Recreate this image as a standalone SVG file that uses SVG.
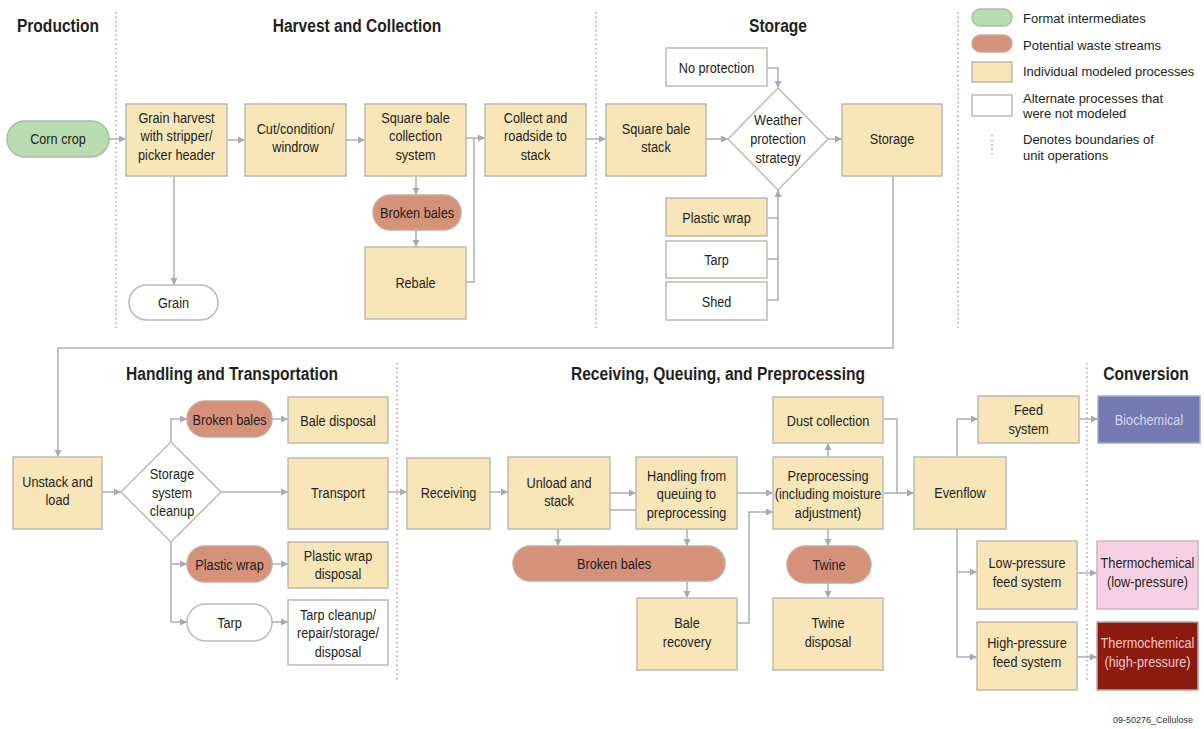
<svg xmlns="http://www.w3.org/2000/svg" width="1204" height="729" viewBox="0 0 1204 729">
<style>
.box{fill:#f8e5b8;stroke:#bfbab0;stroke-width:1.5}
.alt{fill:#ffffff;stroke:#bfbab0;stroke-width:1.5}
.waste{fill:#d5917a;stroke:#c9a898;stroke-width:1.5}
.green{fill:#b9dcb1;stroke:#a8bda4;stroke-width:1.5}
.dia{fill:#ffffff;stroke:#bfbab0;stroke-width:1.5}
.conn path{fill:none;stroke:#aab0b8;stroke-width:1.5}
.dot{stroke:#a8a8a8;stroke-width:1.5;stroke-dasharray:1.5 3;fill:none}
text{font-family:"Liberation Sans","Arial",sans-serif;fill:#231f20}
.t{font-size:15.5px;text-anchor:middle}
.h{font-size:19px;font-weight:bold;text-anchor:middle}
.lg{font-size:13px}
</style>
<defs>
<marker id="ah" markerUnits="userSpaceOnUse" markerWidth="8" markerHeight="8" refX="7" refY="4" orient="auto">
<path d="M0,0.5 L7,4 L0,7.5 z" fill="#a4abb4"/>
</marker>
</defs>

<g id="boundaries">
<line class="dot" x1="116" y1="12" x2="116" y2="328"/>
<line class="dot" x1="596" y1="12" x2="596" y2="328"/>
<line class="dot" x1="958" y1="12" x2="958" y2="328"/>
<line class="dot" x1="397" y1="363" x2="397" y2="680"/>
<line class="dot" x1="1087" y1="363" x2="1087" y2="680"/>
</g>

<g id="titles">
<text class="h" transform="translate(58,0) scale(0.82,1)" y="32">Production</text>
<text class="h" transform="translate(357,0) scale(0.82,1)" y="32">Harvest and Collection</text>
<text class="h" transform="translate(778,0) scale(0.82,1)" y="32">Storage</text>
<text class="h" transform="translate(232,0) scale(0.82,1)" y="380">Handling and Transportation</text>
<text class="h" transform="translate(718,0) scale(0.82,1)" y="380">Receiving, Queuing, and Preprocessing</text>
<text class="h" transform="translate(1146,0) scale(0.82,1)" y="380">Conversion</text>
</g>

<g id="legend">
<rect class="green" x="972" y="9" width="40" height="17" rx="8.5"/>
<rect class="waste" x="972" y="35" width="40" height="17" rx="8.5"/>
<rect class="box" x="972" y="62" width="40" height="20"/>
<rect class="alt" x="972" y="95" width="40" height="21"/>
<line class="dot" x1="992" y1="135" x2="992" y2="158"/>
<text class="lg" x="1023" y="23">Format intermediates</text>
<text class="lg" x="1023" y="50">Potential waste streams</text>
<text class="lg" x="1023" y="76">Individual modeled processes</text>
<text class="lg" x="1023" y="103">Alternate processes that</text>
<text class="lg" x="1023" y="118">were not modeled</text>
<text class="lg" x="1023" y="144">Denotes boundaries of</text>
<text class="lg" x="1023" y="160">unit operations</text>
</g>

<g class="conn" id="connectors">
<path d="M109,139 H126" marker-end="url(#ah)"/>
<path d="M227,140 H245" marker-end="url(#ah)"/>
<path d="M346,140 H365" marker-end="url(#ah)"/>
<path d="M466,138 H485" marker-end="url(#ah)"/>
<path d="M466,282 H474 V138"/>
<path d="M174,176 V285" marker-end="url(#ah)"/>
<path d="M416,176 V195" marker-end="url(#ah)"/>
<path d="M416,230 V247" marker-end="url(#ah)"/>
<path d="M586,139 H606" marker-end="url(#ah)"/>
<path d="M706,139 H728" marker-end="url(#ah)"/>
<path d="M828,139 H842" marker-end="url(#ah)"/>
<path d="M767,68 H778 V88" marker-end="url(#ah)"/>
<path d="M767,218 H778"/>
<path d="M767,259 H778"/>
<path d="M767,300 H778 V190" marker-end="url(#ah)"/>
<path d="M893,176 V348 H58 V457" marker-end="url(#ah)"/>
<path d="M102,492 H121" marker-end="url(#ah)"/>
<path d="M171,442 V419 H187" marker-end="url(#ah)"/>
<path d="M221,492 H288" marker-end="url(#ah)"/>
<path d="M171,542 V622 H187" marker-end="url(#ah)"/>
<path d="M171,564 H187" marker-end="url(#ah)"/>
<path d="M272,419 H288" marker-end="url(#ah)"/>
<path d="M272,564 H288" marker-end="url(#ah)"/>
<path d="M272,622 H288" marker-end="url(#ah)"/>
<path d="M388,492 H407" marker-end="url(#ah)"/>
<path d="M490,492 H508" marker-end="url(#ah)"/>
<path d="M610,493 H636" marker-end="url(#ah)"/>
<path d="M610,510 H636"/>
<path d="M737,493 H773" marker-end="url(#ah)"/>
<path d="M737,623 H749 V512 H773" marker-end="url(#ah)"/>
<path d="M558,529 V546" marker-end="url(#ah)"/>
<path d="M687,529 V546" marker-end="url(#ah)"/>
<path d="M687,581 V598" marker-end="url(#ah)"/>
<path d="M828,457 V443" marker-end="url(#ah)"/>
<path d="M828,529 V546" marker-end="url(#ah)"/>
<path d="M828,583 V598" marker-end="url(#ah)"/>
<path d="M883,419 H897 V493"/>
<path d="M883,493 H914" marker-end="url(#ah)"/>
<path d="M957,457 V419 H978" marker-end="url(#ah)"/>
<path d="M957,529 V657 H977" marker-end="url(#ah)"/>
<path d="M957,572 H977" marker-end="url(#ah)"/>
<path d="M1079,419 H1098" marker-end="url(#ah)"/>
<path d="M1077,573 H1097" marker-end="url(#ah)"/>
<path d="M1077,657 H1097" marker-end="url(#ah)"/>
</g>

<g id="corn-crop"><rect class="green" x="7" y="121" width="102" height="36" rx="18"/><text class="t" transform="translate(58,0) scale(0.82,1)" y="144">Corn crop</text></g>
<g id="grain-harvest"><rect class="box" x="126" y="104" width="101" height="72"/><g transform="translate(176.5,0) scale(0.82,1)"><text class="t" y="123">Grain harvest</text><text class="t" y="141.5">with stripper/</text><text class="t" y="160">picker header</text></g></g>
<g id="cut"><rect class="box" x="245" y="104" width="101" height="72"/><g transform="translate(295.5,0) scale(0.82,1)"><text class="t" y="134">Cut/condition/</text><text class="t" y="152">windrow</text></g></g>
<g id="square-bale-collection"><rect class="box" x="365" y="104" width="101" height="72"/><g transform="translate(415.5,0) scale(0.82,1)"><text class="t" y="123">Square bale</text><text class="t" y="141.5">collection</text><text class="t" y="160">system</text></g></g>
<g id="collect"><rect class="box" x="485" y="104" width="101" height="72"/><g transform="translate(535.5,0) scale(0.82,1)"><text class="t" y="123">Collect and</text><text class="t" y="141.5">roadside to</text><text class="t" y="160">stack</text></g></g>
<g id="broken-bales-1"><rect class="waste" x="373" y="195" width="88" height="35" rx="17.5"/><text class="t" transform="translate(417,0) scale(0.82,1)" y="218">Broken bales</text></g>
<g id="rebale"><rect class="box" x="365" y="247" width="101" height="72"/><text class="t" transform="translate(415.5,0) scale(0.82,1)" y="288">Rebale</text></g>
<g id="grain"><rect class="alt" x="129" y="285" width="89" height="35" rx="17.5"/><text class="t" transform="translate(173.5,0) scale(0.82,1)" y="308">Grain</text></g>

<g id="square-bale-stack"><rect class="box" x="606" y="104" width="100" height="72"/><g transform="translate(656,0) scale(0.82,1)"><text class="t" y="134">Square bale</text><text class="t" y="152">stack</text></g></g>
<g id="weather"><polygon class="dia" points="778,88 828,139 778,190 728,139"/><g transform="translate(778,0) scale(0.82,1)"><text class="t" y="125">Weather</text><text class="t" y="144">protection</text><text class="t" y="163">strategy</text></g></g>
<g id="storage"><rect class="box" x="842" y="104" width="100" height="72"/><text class="t" transform="translate(892,0) scale(0.82,1)" y="144">Storage</text></g>
<g id="no-protection"><rect class="alt" x="666" y="48" width="101" height="38"/><text class="t" transform="translate(716.5,0) scale(0.82,1)" y="73">No protection</text></g>
<g id="plastic-wrap-1"><rect class="box" x="666" y="198" width="101" height="38"/><text class="t" transform="translate(716.5,0) scale(0.82,1)" y="223">Plastic wrap</text></g>
<g id="tarp-1"><rect class="alt" x="666" y="241" width="101" height="37"/><text class="t" transform="translate(716.5,0) scale(0.82,1)" y="265">Tarp</text></g>
<g id="shed"><rect class="alt" x="666" y="282" width="101" height="38"/><text class="t" transform="translate(716.5,0) scale(0.82,1)" y="307">Shed</text></g>

<g id="unstack"><rect class="box" x="13" y="457" width="89" height="72"/><g transform="translate(57.5,0) scale(0.82,1)"><text class="t" y="487">Unstack and</text><text class="t" y="505">load</text></g></g>
<g id="cleanup"><polygon class="dia" points="171,442 221,492 171,542 121,492"/><g transform="translate(172,0) scale(0.82,1)"><text class="t" y="479">Storage</text><text class="t" y="498">system</text><text class="t" y="516">cleanup</text></g></g>
<g id="broken-bales-2"><rect class="waste" x="187" y="401" width="85" height="36" rx="18"/><text class="t" transform="translate(229.5,0) scale(0.82,1)" y="425">Broken bales</text></g>
<g id="bale-disposal"><rect class="box" x="288" y="397" width="100" height="46"/><text class="t" transform="translate(338,0) scale(0.82,1)" y="426">Bale disposal</text></g>
<g id="transport"><rect class="box" x="288" y="458" width="100" height="71"/><text class="t" transform="translate(338,0) scale(0.82,1)" y="498">Transport</text></g>
<g id="plastic-wrap-2"><rect class="waste" x="187" y="546" width="85" height="36" rx="18"/><text class="t" transform="translate(229.5,0) scale(0.82,1)" y="570">Plastic wrap</text></g>
<g id="plastic-wrap-disposal"><rect class="box" x="288" y="542" width="100" height="46"/><g transform="translate(338,0) scale(0.82,1)"><text class="t" y="561">Plastic wrap</text><text class="t" y="579">disposal</text></g></g>
<g id="tarp-2"><rect class="alt" x="187" y="604" width="85" height="37" rx="18.5"/><text class="t" transform="translate(229.5,0) scale(0.82,1)" y="628">Tarp</text></g>
<g id="tarp-cleanup"><rect class="alt" x="288" y="600" width="100" height="65"/><g transform="translate(338,0) scale(0.82,1)"><text class="t" y="620">Tarp cleanup/</text><text class="t" y="638.5">repair/storage/</text><text class="t" y="657">disposal</text></g></g>
<g id="receiving"><rect class="box" x="407" y="458" width="83" height="71"/><text class="t" transform="translate(448.5,0) scale(0.82,1)" y="498">Receiving</text></g>

<g id="unload"><rect class="box" x="508" y="457" width="102" height="72"/><g transform="translate(559,0) scale(0.82,1)"><text class="t" y="488">Unload and</text><text class="t" y="506">stack</text></g></g>
<g id="handling"><rect class="box" x="636" y="457" width="101" height="72"/><g transform="translate(686.5,0) scale(0.82,1)"><text class="t" y="481">Handling from</text><text class="t" y="499.5">queuing to</text><text class="t" y="518">preprocessing</text></g></g>
<g id="preprocessing"><rect class="box" x="773" y="457" width="110" height="72"/><g transform="translate(828,0) scale(0.82,1)"><text class="t" y="481">Preprocessing</text><text class="t" y="499.5">(including moisture</text><text class="t" y="518">adjustment)</text></g></g>
<g id="dust"><rect class="box" x="773" y="397" width="110" height="46"/><text class="t" transform="translate(828,0) scale(0.82,1)" y="426">Dust collection</text></g>
<g id="broken-bales-3"><rect class="waste" x="513" y="546" width="212" height="35" rx="17.5"/><text class="t" transform="translate(614,0) scale(0.82,1)" y="569">Broken bales</text></g>
<g id="twine"><rect class="waste" x="787" y="546" width="84" height="37" rx="18.5"/><text class="t" transform="translate(829,0) scale(0.82,1)" y="570">Twine</text></g>
<g id="bale-recovery"><rect class="box" x="637" y="598" width="100" height="72"/><g transform="translate(687,0) scale(0.82,1)"><text class="t" y="628">Bale</text><text class="t" y="647">recovery</text></g></g>
<g id="twine-disposal"><rect class="box" x="773" y="598" width="110" height="72"/><g transform="translate(828,0) scale(0.82,1)"><text class="t" y="628">Twine</text><text class="t" y="647">disposal</text></g></g>

<g id="evenflow"><rect class="box" x="914" y="457" width="92" height="72"/><text class="t" transform="translate(960,0) scale(0.82,1)" y="498">Evenflow</text></g>
<g id="feed"><rect class="box" x="978" y="396" width="101" height="47"/><g transform="translate(1028.5,0) scale(0.82,1)"><text class="t" y="415">Feed</text><text class="t" y="434">system</text></g></g>
<g id="biochemical"><rect x="1098" y="396" width="102" height="47" fill="#7579b2" stroke="#a9abc6" stroke-width="1.5"/><text class="t" transform="translate(1149,0) scale(0.82,1)" y="425" style="fill:#d5d8ef">Biochemical</text></g>
<g id="low-pressure"><rect class="box" x="977" y="541" width="100" height="68"/><g transform="translate(1027,0) scale(0.82,1)"><text class="t" y="568">Low-pressure</text><text class="t" y="587">feed system</text></g></g>
<g id="thermo-low"><rect x="1097" y="541" width="101" height="68" fill="#f7d0e3" stroke="#c9b6bf" stroke-width="1.5"/><g transform="translate(1147.5,0) scale(0.82,1)"><text class="t" y="568">Thermochemical</text><text class="t" y="587">(low-pressure)</text></g></g>
<g id="high-pressure"><rect class="box" x="977" y="622" width="100" height="68"/><g transform="translate(1027,0) scale(0.82,1)"><text class="t" y="648">High-pressure</text><text class="t" y="667">feed system</text></g></g>
<g id="thermo-high"><rect x="1097" y="622" width="101" height="68" fill="#8b1a0f" stroke="#b9a8a5" stroke-width="1.5"/><g transform="translate(1147.5,0) scale(0.82,1)"><text class="t" y="648" style="fill:#f5c8cc">Thermochemical</text><text class="t" y="667" style="fill:#f5c8cc">(high-pressure)</text></g></g>

<text x="1193" y="723" style="font-size:9px;text-anchor:end;fill:#333">09-50276_Cellulose</text>
</svg>
